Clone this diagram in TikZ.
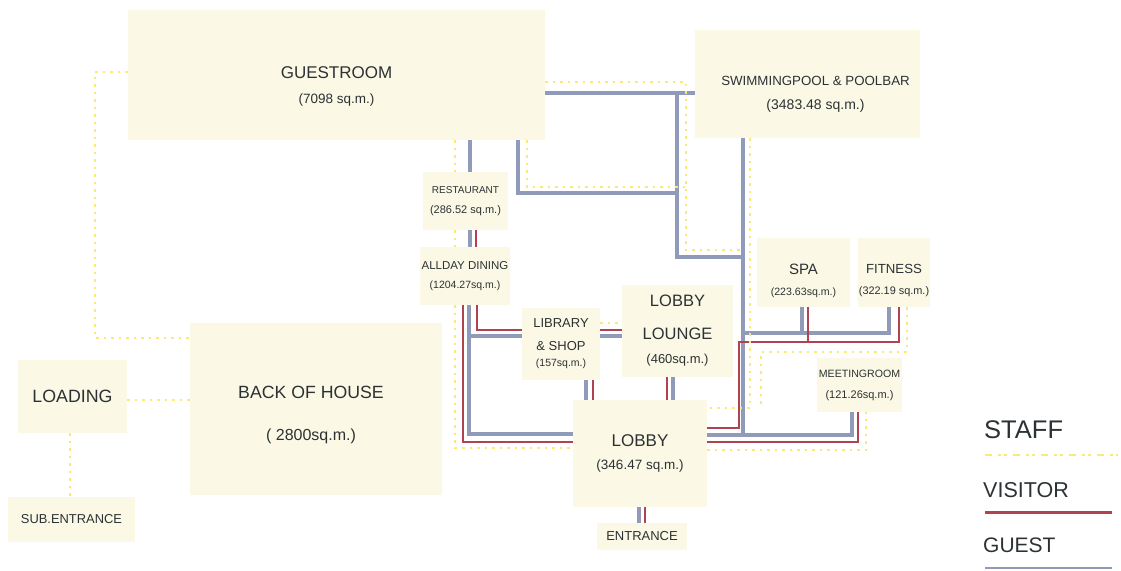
\documentclass[tikz,border=0pt]{standalone}
\usepackage{fontspec}
\setmainfont{Liberation Sans}
\usetikzlibrary{backgrounds}
\definecolor{roomfill}{RGB}{251,248,229}
\definecolor{textc}{RGB}{44,50,52}
\definecolor{guestc}{RGB}{143,155,185}
\definecolor{visitc}{RGB}{176,66,82}
\definecolor{staffc}{RGB}{250,232,120}
\newcommand{\roomfont}[1]{\fontsize{#1}{#1}\selectfont}
\tikzset{
  room/.style={fill=roomfill, inner sep=0pt, align=center, text=textc},
  roomlbl/.style={align=center, text=textc, inner sep=0pt},
  legendtxt/.style={anchor=west, inner sep=0pt, text=textc},
  guestline/.style={draw=guestc, line width=3.2pt},
  visitline/.style={draw=visitc, line width=2pt},
  staffline/.style={draw=staffc, line width=2pt, dash pattern=on 2.5pt off 5pt},
}
\begin{document}
\begin{tikzpicture}[x=1pt,y=-1pt]
\useasboundingbox (0,0) rectangle (1121,570);
% rooms
\node[room, minimum width=417pt, minimum height=130pt,
  label={[roomlbl, yshift=-11pt]center:{\roomfont{17}GUESTROOM\\[13pt]\roomfont{13.5}(7098 sq.m.)}}] (guest) at (336.5,75) {};
\node[room, minimum width=225pt, minimum height=108pt,
  label={[roomlbl, xshift=8pt, yshift=-10pt]center:{\roomfont{13.3}SWIMMINGPOOL \& POOLBAR\\[12pt]\roomfont{14}(3483.48 sq.m.)}}] (pool) at (807.5,84) {};
\node[room, minimum width=85pt, minimum height=58pt] (rest) at (465.5,201) {\roomfont{10}RESTAURANT\\[8pt]\roomfont{11}(286.52 sq.m.)};
\node[room, minimum width=90pt, minimum height=58pt] (dining) at (465,276) {\roomfont{11.5}ALLDAY DINING\\[7pt]\roomfont{10.5}(1204.27sq.m.)};
\node[room, minimum width=78pt, minimum height=72pt] (lib) at (561,344) {\roomfont{13}LIBRARY\\[11pt]\roomfont{13}\& SHOP\\[4pt]\roomfont{10.5}(157sq.m.)};
\node[room, minimum width=111pt, minimum height=92pt] (lounge) at (677.5,331) {\roomfont{16.5}LOBBY\\[21pt]\roomfont{16.5}LOUNGE\\[12pt]\roomfont{13}(460sq.m.)};
\node[room, minimum width=134pt, minimum height=107pt] (lobby) at (640,453.5) {\roomfont{17}LOBBY\\[11pt]\roomfont{13.5}(346.47 sq.m.)};
\node[room, minimum width=90pt, minimum height=27pt] (entr) at (642,536.5) {\roomfont{13}ENTRANCE};
\node[room, minimum width=93pt, minimum height=69pt,
  label={[roomlbl, yshift=-8pt]center:{\roomfont{15}SPA\\[9pt]\roomfont{10.6}(223.63sq.m.)}}] (spa) at (803.5,272.5) {};
\node[room, minimum width=72pt, minimum height=69pt,
  label={[roomlbl, yshift=-8pt]center:{\roomfont{13.2}FITNESS\\[9pt]\roomfont{10.9}(322.19 sq.m.)}}] (fit) at (894,272.5) {};
\node[room, minimum width=85pt, minimum height=54pt] (meet) at (859.5,385) {\roomfont{10.6}MEETINGROOM\\[9pt]\roomfont{11}(121.26sq.m.)};
\node[room, minimum width=109pt, minimum height=73pt] (load) at (72.5,396.5) {\roomfont{17.8}LOADING};
\node[room, minimum width=127pt, minimum height=45pt] (sub) at (71.5,519.5) {\roomfont{12.9}SUB.ENTRANCE};
\node[room, minimum width=252pt, minimum height=172pt,
  label={[roomlbl, xshift=-5pt, yshift=-6pt]center:{\roomfont{17.7}BACK OF HOUSE\\[30pt]\roomfont{16}( 2800sq.m.)}}] (boh) at (316,409) {};
% legend
\node[legendtxt] (stafftxt) at (984,430) {\roomfont{25.5}STAFF};
\node[legendtxt] (visittxt) at (983,490) {\roomfont{21.5}VISITOR};
\node[legendtxt] (guesttxt) at (983,545) {\roomfont{21}GUEST};
\draw[staffline, line width=2.5pt, dash pattern=on 7pt off 6pt on 3pt off 3pt on 3pt off 6pt] (985,455) -- (1118,455);
\draw[visitline, line width=3pt] (985,512) -- (1112,512);
\draw[guestline, line width=1.5pt] (985,568) -- (1112,568);
\begin{scope}[on background layer]
% guest
\draw[guestline] (guest.east |- 0,93) -- (pool.west |- 0,93);
\draw[guestline] (677,93) -- (677,257) -- (743,257);
\draw[guestline] (pool.south -| 743,0) -- (743,435);
\draw[guestline] (lobby.east |- 0,435) -| (meet.south -| 852,0);
\draw[guestline] (guest.south -| 518,0) |- (677,193);
\draw[guestline] (guest.south -| 470,0) -- (rest.north -| 470,0);
\draw[guestline] (rest.south -| 470,0) -- (dining.north -| 470,0);
\draw[guestline] (dining.south -| 469,0) |- (lobby.west |- 0,434);
\draw[guestline] (469,336) -- (lib.west |- 0,336);
\draw[guestline] (lib.east |- 0,336) -- (lounge.west |- 0,336);
\draw[guestline] (lib.south -| 586,0) -- (lobby.north -| 586,0);
\draw[guestline] (lounge.south -| 673,0) -- (lobby.north -| 673,0);
\draw[guestline] (743,333) -| (fit.south -| 889,0);
\draw[guestline] (spa.south -| 802,0) -- (802,333);
\draw[guestline] (lobby.south -| 639,0) -- (entr.north -| 639,0);
% visitor
\draw[visitline] (rest.south -| 476,0) -- (dining.north -| 476,0);
\draw[visitline] (dining.south -| 463,0) |- (lobby.west |- 0,442);
\draw[visitline] (dining.south -| 477,0) |- (lib.west |- 0,330);
\draw[visitline] (lib.east |- 0,330) -- (lounge.west |- 0,330);
\draw[visitline] (lib.south -| 593,0) -- (lobby.north -| 593,0);
\draw[visitline] (lounge.south -| 667,0) -- (lobby.north -| 667,0);
\draw[visitline] (lobby.east |- 0,428) -- (739,428) -- (739,342) -| (fit.south -| 899,0);
\draw[visitline] (spa.south -| 808,0) -- (808,342);
\draw[visitline] (lobby.east |- 0,442) -| (meet.south -| 858,0);
\draw[visitline] (lobby.south -| 645,0) -- (entr.north -| 645,0);
% staff
\draw[staffline] (guest.west |- 0,72) -- (95,72) -- (95,338) -- (boh.west |- 0,338);
\draw[staffline] (load.east |- 0,400) -- (boh.west |- 0,400);
\draw[staffline] (load.south -| 70,0) -- (sub.north -| 70,0);
\draw[staffline] (guest.south -| 455,0) |- (lobby.west |- 0,448);
\draw[staffline] (guest.east |- 0,82) -- (686,82) -- (686,250) -- (743,250);
\draw[staffline] (guest.south -| 527,0) |- (686,187);
\draw[staffline] (lib.east |- 0,323) -- (lounge.west |- 0,323);
\draw[staffline] (pool.south -| 750,0) |- (lobby.east |- 0,408);
\draw[staffline] (fit.south -| 907,0) |- (761,352) -- (761,408);
\draw[staffline] (lobby.east |- 0,450) -| (meet.south -| 866,0);
\end{scope}
\end{tikzpicture}
\end{document}
